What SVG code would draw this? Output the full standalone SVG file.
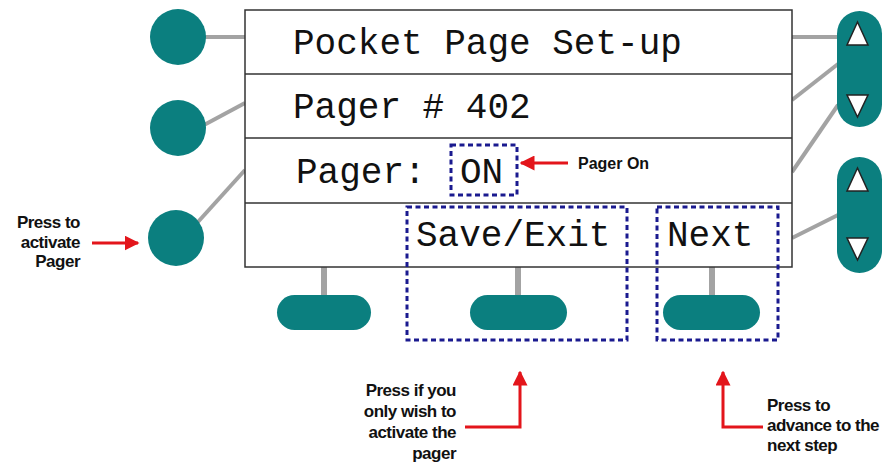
<svg xmlns="http://www.w3.org/2000/svg" width="895" height="465" viewBox="0 0 895 465">
<defs>
<style>
.lcd{font-family:"Liberation Mono","Courier New",monospace;font-size:36px;fill:#111}
.note{font-family:"Liberation Sans",Arial,sans-serif;font-weight:bold;font-size:17px;fill:#111;letter-spacing:-0.5px}
.teal{fill:#0b7f7f}
.conn{stroke:#a3a3a3;stroke-width:4;fill:none}
.stem{stroke:#a3a3a3;stroke-width:6;fill:none}
.dash{fill:none;stroke:#1a1a8f;stroke-width:3;stroke-dasharray:5 3.5}
.red{stroke:#e3151b;stroke-width:3;fill:none}
.tri{fill:#fff;stroke:#222;stroke-width:1.5}
</style>
<marker id="ah" viewBox="0 0 10 10" refX="9" refY="5" markerWidth="5" markerHeight="5" orient="auto" markerUnits="strokeWidth">
<path d="M0,0 L10,5 L0,10 z" fill="#e3151b"/>
</marker>
</defs>
<rect width="895" height="465" fill="#fff"/>

<g id="connectors">
<line class="conn" x1="205" y1="37" x2="245" y2="37"/>
<line class="conn" x1="204" y1="125" x2="245" y2="103"/>
<line class="conn" x1="197" y1="223" x2="245" y2="170"/>
<line class="conn" x1="792" y1="37" x2="838" y2="37"/>
<line class="conn" x1="792" y1="100" x2="838" y2="64"/>
<line class="conn" x1="792" y1="172" x2="838" y2="105"/>
<line class="conn" x1="792" y1="238" x2="838" y2="215"/>
<line class="stem" x1="324" y1="267" x2="324" y2="296"/>
<line class="stem" x1="518" y1="267" x2="518" y2="296"/>
<line class="stem" x1="712" y1="267" x2="712" y2="296"/>
</g>

<g id="screen">
<rect x="245" y="10" width="547" height="257" fill="#fff" stroke="#333" stroke-width="1.5"/>
<line x1="245" y1="74" x2="792" y2="74" stroke="#333" stroke-width="1.5"/>
<line x1="245" y1="138" x2="792" y2="138" stroke="#333" stroke-width="1.5"/>
<line x1="245" y1="203" x2="792" y2="203" stroke="#333" stroke-width="1.5"/>
<text class="lcd" x="293" y="54">Pocket Page Set-up</text>
<text class="lcd" x="293" y="118">Pager # 402</text>
<text class="lcd" x="296" y="183">Pager:</text>
<text class="lcd" x="460" y="183">ON</text>
<text class="lcd" x="416" y="246">Save/Exit</text>
<text class="lcd" x="667" y="246">Next</text>
</g>

<g id="btn-left-1"><circle class="teal" cx="178" cy="37" r="28"/></g>
<g id="btn-left-2"><circle class="teal" cx="178" cy="128" r="28"/></g>
<g id="btn-left-3"><circle class="teal" cx="176" cy="238" r="28"/></g>

<g id="rocker-1">
<rect class="teal" x="837" y="11" width="45" height="116" rx="22.5"/>
<polygon class="tri" points="857.5,22 847,45 868,45"/>
<polygon class="tri" points="847,95 868,95 857.5,117"/>
</g>
<g id="rocker-2">
<rect class="teal" x="837" y="157" width="45" height="116" rx="22.5"/>
<polygon class="tri" points="857.5,168 847,191 868,191"/>
<polygon class="tri" points="847,238 868,238 857.5,260"/>
</g>

<g id="btn-bottom-1"><rect class="teal" x="277" y="295" width="94" height="35" rx="17.5"/></g>
<g id="btn-bottom-2"><rect class="teal" x="470" y="295" width="97" height="35" rx="17.5"/></g>
<g id="btn-bottom-3"><rect class="teal" x="663" y="295" width="97" height="35" rx="17.5"/></g>

<g id="highlights">
<rect class="dash" x="451" y="145" width="66" height="50"/>
<rect class="dash" x="407" y="207" width="220" height="133"/>
<rect class="dash" x="657" y="207" width="121" height="133"/>
</g>

<g id="annotations">
<line class="red" x1="92" y1="243" x2="138" y2="243" marker-end="url(#ah)"/>
<line class="red" x1="568" y1="163" x2="521" y2="163" marker-end="url(#ah)"/>
<polyline class="red" points="465,427 520,427 520,372" marker-end="url(#ah)"/>
<polyline class="red" points="763,427 723,427 723,372" marker-end="url(#ah)"/>
<text class="note" x="80" y="228" text-anchor="end">Press to</text>
<text class="note" x="80" y="248" text-anchor="end">activate</text>
<text class="note" x="80" y="267" text-anchor="end">Pager</text>
<text class="note" x="578" y="169" style="font-size:16px;letter-spacing:0px">Pager On</text>
<text class="note" x="456" y="396" text-anchor="end">Press if you</text>
<text class="note" x="456" y="417" text-anchor="end">only wish to</text>
<text class="note" x="456" y="438" text-anchor="end">activate the</text>
<text class="note" x="456" y="459" text-anchor="end">pager</text>
<text class="note" x="767" y="411">Press to</text>
<text class="note" x="767" y="431">advance to the</text>
<text class="note" x="767" y="451">next step</text>
</g>
</svg>
